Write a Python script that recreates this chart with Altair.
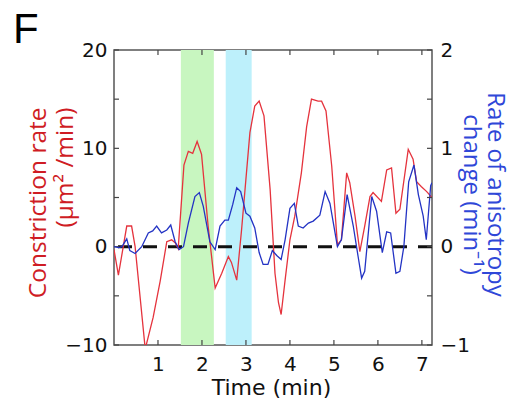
import altair as alt
import pandas as pd

# ---- data ----
red_t = [0.0, 0.1, 0.29, 0.4, 0.48, 0.71, 0.89, 1.05, 1.2, 1.31, 1.39, 1.46, 1.59, 1.69, 1.79,
         1.89, 1.99, 2.14, 2.3, 2.45, 2.6, 2.67, 2.79, 2.9, 3.09, 3.2, 3.3, 3.41, 3.55, 3.66,
         3.74, 3.8, 3.89, 4.0, 4.11, 4.26, 4.38, 4.49, 4.64, 4.72, 4.82, 4.95, 5.08, 5.17,
         5.29, 5.36, 5.48, 5.59, 5.7, 5.82, 5.89, 6.08, 6.2, 6.31, 6.41, 6.5, 6.69, 6.8,
         6.88, 6.99, 7.11, 7.23]
red_v = [-0.3, -2.9, 2.1, 2.1, 0.0, -10.4, -7.2, -3.5, 0.5, 0.7, 0.4, -0.2, 8.3, 9.7, 9.5,
         10.7, 9.4, 2.1, -4.2, -2.7, -1.0, -1.6, -3.4, 1.7, 11.6, 14.3, 14.8, 13.3, 5.8, -2.7,
         -5.7, -6.9, -3.4, 0.7, 3.1, 7.5, 12.2, 15.0, 14.8, 14.8, 13.8, 8.2, 0.2, 0.7,
         7.5, 6.5, 3.1, -0.5, 2.1, 5.1, 5.5, 4.6, 7.8, 8.0, 3.4, 3.8, 9.9, 8.9,
         6.6, 6.1, 5.6, 5.0]

blue_t = [0.0, 0.1, 0.18, 0.29, 0.36, 0.48, 0.63, 0.78, 0.88, 0.97, 1.08, 1.2, 1.29, 1.39,
          1.48, 1.58, 1.69, 1.84, 1.94, 2.03, 2.18, 2.3, 2.41, 2.52, 2.6, 2.7, 2.79, 2.88,
          3.0, 3.09, 3.2, 3.3, 3.39, 3.5, 3.6, 3.7, 3.8, 3.89, 4.0, 4.1, 4.19, 4.3, 4.42,
          4.53, 4.68, 4.8, 4.91, 5.08, 5.17, 5.3, 5.44, 5.55, 5.63, 5.7, 5.86, 5.97, 6.1,
          6.2, 6.29, 6.41, 6.5, 6.59, 6.7, 6.82, 6.92, 7.03, 7.1, 7.2, 7.23]
blue_v = [0.0, -0.01, 0.0, 0.08, -0.04, -0.07, 0.0, 0.14, 0.16, 0.21, 0.14, 0.17, 0.22, 0.05,
          -0.03, 0.0, 0.24, 0.51, 0.55, 0.41, 0.05, -0.03, 0.21, 0.27, 0.27, 0.43, 0.6, 0.56,
          0.34, 0.31, 0.19, -0.06, -0.18, -0.18, -0.04, -0.09, -0.13, 0.07, 0.39, 0.44, 0.21,
          0.19, 0.24, 0.26, 0.32, 0.56, 0.44, 0.0, 0.07, 0.53, 0.21, -0.1, -0.32, -0.25,
          0.51, 0.36, -0.06, 0.15, 0.14, -0.27, -0.25, 0.0, 0.66, 0.83, 0.53, 0.31, 0.07,
          0.62, 0.65]

band_name = ["interval 1", "interval 2"]
band_start = [1.52, 2.54]
band_end = [2.27, 3.13]

x_ticks = [1, 2, 3, 4, 5, 6, 7]
left_ticks = [-10, -5, 0, 5, 10, 15, 20]
left_labels = [-10, 0, 10, 20]
right_ticks = [-1, -0.5, 0, 0.5, 1, 1.5, 2]
right_labels = [-1, 0, 1, 2]

# ---- tables ----
red_df = pd.DataFrame({"t": red_t, "v": red_v})
blue_df = pd.DataFrame({"t": blue_t, "v": blue_v})
band_df = pd.DataFrame({"name": band_name, "start": band_start, "end": band_end})
xt_df = pd.DataFrame({"t": x_ticks})
lt_df = pd.DataFrame({"v": left_ticks})
rt_df = pd.DataFrame({"v": right_ticks})
zero_df = pd.DataFrame({"v": [0]})
f_df = pd.DataFrame({"label": ["F"]})

W, H = 318, 295
RED = "#e5333d"
BLUE = "#2333c4"
TICK = "#444444"
LBL = "DejaVu Sans"
xs = alt.Scale(domain=[0, 7.23], nice=False, zero=False)
yl = alt.Scale(domain=[-10, 20], nice=False, zero=False)
yr = alt.Scale(domain=[-1, 2], nice=False, zero=False)

x_axis = alt.Axis(values=x_ticks, ticks=False, domain=False, grid=False,
                  labelFont=LBL, labelFontSize=20, labelPadding=9,
                  labelColor="#111", title="Time (min)", titleFont=LBL,
                  titleFontSize=22, titleFontWeight="normal", titleColor="#111",
                  titleX=157, titleY=49.5, titleBaseline="alphabetic", titleAlign="center")
yl_axis = alt.Axis(values=left_labels, ticks=False, domain=False, grid=False, orient="left",
                   labelFont=LBL, labelFontSize=20, labelPadding=7,
                   labelColor="#111", title=["Constriction rate", "(µm² /min)"],
                   titleFont="Open Sans", titleFontSize=24.5, titleFontWeight="normal",
                   titleColor="#cf1c24", titleAngle=270, titleX=-69, titleY=57,
                   titleBaseline="alphabetic", titleAlign="right", titleLineHeight=27)
yr_axis = alt.Axis(values=right_labels, ticks=False, domain=False, grid=False, orient="right",
                   labelFont=LBL, labelFontSize=20, labelPadding=8,
                   labelColor="#111", title=["Rate of anisotropy", "change (min⁻¹)"],
                   titleFont="Open Sans", titleFontSize=24, titleFontWeight="normal",
                   titleColor="#2f47d8", titleAngle=90, titleX=55, titleY=144,
                   titleBaseline="alphabetic", titleAlign="center", titleLineHeight=24)

bands = alt.Chart(band_df).mark_rect(opacity=1).encode(
    x=alt.X("start:Q", scale=xs, axis=x_axis),
    x2="end:Q",
    color=alt.Color("name:N", scale=alt.Scale(domain=band_name, range=["#c8f6c0", "#bdf0fb"]),
                    legend=None),
)
zero = alt.Chart(zero_df).mark_rule(
    color="#111", strokeWidth=3, strokeDash=[14, 11]).encode(
    y=alt.Y("v:Q", scale=yl, axis=yl_axis),
)
red = alt.Chart(red_df).mark_line(color=RED, strokeWidth=1.3, clip=True).encode(
    x=alt.X("t:Q", scale=xs, axis=x_axis),
    y=alt.Y("v:Q", scale=yl, axis=yl_axis),
)
xt_bottom = alt.Chart(xt_df).mark_rule(color=TICK, strokeWidth=1.2).encode(
    x=alt.X("t:Q", scale=xs, axis=x_axis), y=alt.value(H), y2=alt.value(H - 5))
xt_top = alt.Chart(xt_df).mark_rule(color=TICK, strokeWidth=1.2).encode(
    x=alt.X("t:Q", scale=xs, axis=x_axis), y=alt.value(0), y2=alt.value(5))
lt = alt.Chart(lt_df).mark_rule(color=TICK, strokeWidth=1.2).encode(
    y=alt.Y("v:Q", scale=yl, axis=yl_axis), x=alt.value(0), x2=alt.value(5))
ftext = alt.Chart(f_df).mark_text(font="Liberation Sans", fontSize=42, align="left",
                                  baseline="alphabetic", color="#000").encode(
    text="label:N", x=alt.value(-101), y=alt.value(-7))

left_layer = alt.layer(bands, zero, red, xt_bottom, xt_top, lt, ftext)

blue = alt.Chart(blue_df).mark_line(color=BLUE, strokeWidth=1.3, clip=True).encode(
    x=alt.X("t:Q", scale=xs, axis=x_axis),
    y=alt.Y("v:Q", scale=yr, axis=yr_axis),
)
rt = alt.Chart(rt_df).mark_rule(color=TICK, strokeWidth=1.2).encode(
    y=alt.Y("v:Q", scale=yr, axis=yr_axis), x=alt.value(W), x2=alt.value(W - 5))
right_layer = alt.layer(blue, rt)

chart = alt.layer(left_layer, right_layer).resolve_scale(y="independent").properties(
    width=W, height=H,
    autosize=alt.AutoSizeParams(type="none"),
    padding={"left": 106, "top": 42, "right": 78, "bottom": 54},
    background="white",
).configure_view(stroke="#555555", strokeWidth=1.5)

chart.save("out.html", embed_options={"renderer": "svg", "actions": False})
